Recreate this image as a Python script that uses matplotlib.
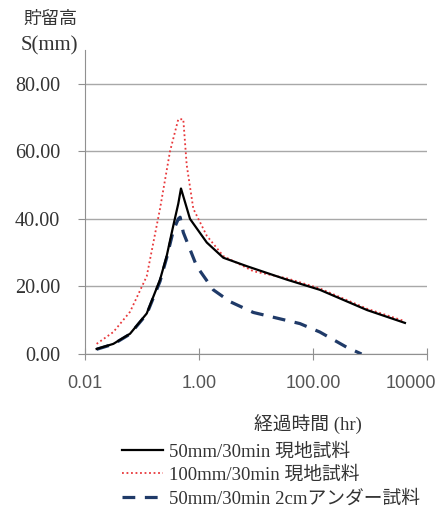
import matplotlib
matplotlib.use("Agg")
import matplotlib.pyplot as plt
from matplotlib.ticker import FixedLocator, FixedFormatter, NullLocator
from matplotlib.transforms import ScaledTranslation

plt.rcParams['font.family'] = ['Liberation Serif', 'Noto Sans CJK JP']

# 50mm/30min 現地試料
t_50 = [0.016, 0.0314, 0.0617, 0.121, 0.207, 0.271, 0.354, 0.433, 0.483,
        0.695, 1.37, 2.67, 6.9, 15.5, 35, 132, 890, 4100]
s_50 = [1.5, 3.0, 6.0, 12.0, 22.0, 29.0, 38.0, 44.5, 49.0,
        40.0, 33.0, 28.5, 26.0, 24.0, 22.0, 19.0, 13.0, 9.2]

# 100mm/30min 現地試料
t_100 = [0.016, 0.0314, 0.0617, 0.121, 0.207, 0.31, 0.433, 0.53,
         0.608, 0.795, 1.37, 2.67, 8.97, 35, 132, 890, 4100]
s_100 = [3.0, 6.5, 12.5, 23.0, 43.0, 60.0, 69.5, 69.5,
         56.0, 43.0, 35.0, 29.0, 24.5, 22.4, 19.4, 13.4, 9.7]

# 50mm/30min 2cmアンダー試料
t_under = [0.016, 0.0314, 0.0617, 0.121, 0.207, 0.271, 0.354, 0.433, 0.467,
           0.53, 0.91, 1.78, 3.5, 8.97, 59, 132, 390, 710]
s_under = [1.4, 2.9, 5.9, 11.8, 21.5, 28.5, 36.5, 40.0, 40.5,
           36.0, 26.0, 19.0, 15.5, 12.3, 9.0, 6.5, 2.0, 0.0]

xticks = [0.01, 1, 100, 10000]
xtick_labels = ["0.01", "1.00", "100.00", "10000"]
yticks = [0, 20, 40, 60, 80]
ytick_labels = ["0.00", "20.00", "40.00", "60.00", "80.00"]

fig = plt.figure(figsize=(4.41, 5.15), dpi=100)
ax = fig.add_axes([85 / 441, 1 - 354 / 515, 342 / 441, 304 / 515])

ax.plot(t_50, s_50, color='black', lw=1.6, label='50mm/30min 現地試料', zorder=3)
ax.plot(t_100, s_100, color='#e8373a', lw=1.3, ls=(0, (1, 1.5)),
        label='100mm/30min 現地試料', zorder=2)
ax.plot(t_under, s_under, color='#1f3a68', lw=2.3, ls=(0, (4, 3)),
        label='50mm/30min 2cmアンダー試料', zorder=2)

ax.set_xscale('log')
ax.set_xlim(0.01, 10000)
ax.set_ylim(0, 90)
ax.xaxis.set_major_locator(FixedLocator(xticks))
ax.xaxis.set_major_formatter(FixedFormatter(xtick_labels))
ax.xaxis.set_minor_locator(NullLocator())
ax.yaxis.set_major_locator(FixedLocator(yticks))
ax.yaxis.set_major_formatter(FixedFormatter(ytick_labels))

ax.grid(axis='y', color='#a8a8a8', lw=1)
ax.set_axisbelow(True)
for side in ['top', 'right']:
    ax.spines[side].set_visible(False)
for side in ['left', 'bottom']:
    ax.spines[side].set_color('#909090')
ax.tick_params(axis='x', direction='inout', length=8, color='#909090',
               labelsize=13, labelcolor='#555555', pad=11)
ax.tick_params(axis='y', direction='out', length=5, color='#909090',
               labelsize=14.5, labelcolor='#333333', pad=13)
for lab in ax.get_xticklabels():
    lab.set_family(['Liberation Sans'])
# keep the last label inside the figure edge
last = ax.get_xticklabels()[-1]
last.set_transform(last.get_transform() + ScaledTranslation(-16 / 100, 0, fig.dpi_scale_trans))

fig.text(50 / 441, 1 - 19 / 515, '貯留高', fontsize=13, color='#333333', ha='center', va='center')
fig.text(49 / 441, 1 - 46 / 515, 'S(mm)', fontsize=15, color='#333333', ha='center', va='center')
fig.text(308 / 441, 1 - 425 / 515, '経過時間 (hr)', fontsize=13.5, color='#333333',
         ha='center', va='center')

fig.legend(loc='upper left', bbox_to_anchor=(122 / 441, 1 - 443 / 515), frameon=False,
           fontsize=13.5, handlelength=2.2, handletextpad=0.3, labelspacing=0.32,
           borderaxespad=0, borderpad=0, labelcolor='#333333')

fig.savefig('out.png', dpi=100)
